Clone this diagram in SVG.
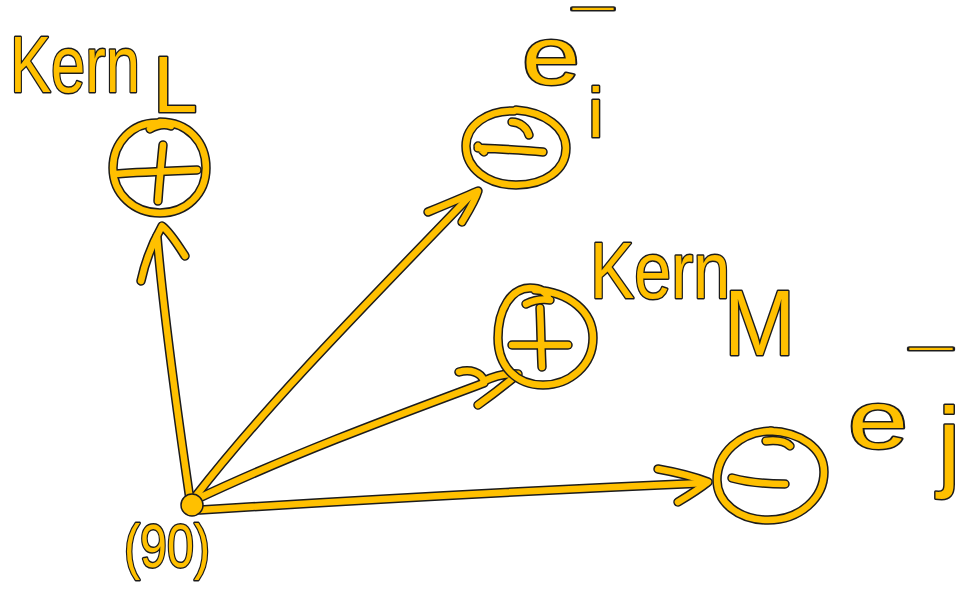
<svg xmlns="http://www.w3.org/2000/svg" xmlns:xlink="http://www.w3.org/1999/xlink" width="977" height="596" viewBox="0 0 977 596">
<style>
.o{fill:none;stroke:#1c1c1c;stroke-width:9.5;stroke-linecap:round;stroke-linejoin:round}
.y{fill:none;stroke:#FFC000;stroke-width:6.5;stroke-linecap:round;stroke-linejoin:round}
.t{fill:#FFC000;stroke:#1c1c1c;stroke-width:3;paint-order:stroke;stroke-linejoin:round;font-family:"Liberation Sans",Arial,sans-serif}
</style>
<defs>
<g id="p-arrows">
<path d="M190,500 C180,430 165,330 157,236"/>
<path d="M141,281 C146,258 154,240 162,226 C170,232 178,245 185,256"/>
<path d="M195,497 C270,400 380,290 470,196"/>
<path d="M428,212 C445,205 462,198 478,191 C475,201 468,212 462,222"/>
<path d="M195,500 C290,455 390,418 484,383"/>
<path d="M459,372 C470,369 481,372 484,381 C495,376 508,373 518,374 M478,405 C492,395 505,385 518,374"/>
<path d="M200,510 C360,500 540,490 706,483"/>
<path d="M658,469 C675,472 692,476 708,482 C698,490 688,496 678,502"/>
</g>
<g id="p-L">
<path d="M160,122 C188,122 206,142 206,168 C206,194 186,213 160,213 C134,213 113,194 113,168 C113,143 132,122 158,123"/>
<path d="M150,129 C157,125 165,124 171,126"/>
<path d="M116,174 C140,172 170,171 197,170"/>
<path d="M163,145 C161,165 159,185 158,201"/>
</g>
<g id="p-i">
<path d="M516,110 C545,112 566,128 566,148 C566,170 545,185 516,185 C487,185 466,168 466,146 C466,125 488,110 514,111"/>
<path d="M512,122 C520,122 527,128 529,135"/>
<path d="M478,146 L484,152 M478,148 C500,149 522,150 543,152"/>
</g>
<g id="p-M">
<path d="M535,290 C570,292 593,312 593,338 C593,365 570,385 543,385 C516,385 498,366 498,338 C498,308 512,288 530,288 C540,288 546,292 548,298"/>
<path d="M526,304 C534,300 543,299 550,300"/>
<path d="M512,345 C530,345 550,345 568,345"/>
<path d="M540,308 C541,328 541,348 542,367"/>
</g>
<g id="p-j">
<path d="M770,431 C800,432 824,448 824,472 C824,498 800,520 768,520 C738,520 717,502 717,480 C717,454 740,431 772,431"/>
<path d="M766,441 C775,440 785,441 790,446"/>
<path d="M732,478 C750,483 770,484 785,484"/>
</g>
</defs>

<g id="connectors">
<use xlink:href="#p-arrows" href="#p-arrows" class="o"/>
<use xlink:href="#p-arrows" href="#p-arrows" class="y"/>
</g>

<g id="kern-L">
<use xlink:href="#p-L" href="#p-L" class="o"/>
<use xlink:href="#p-L" href="#p-L" class="y"/>
<text class="t" font-size="80" transform="translate(10,92) scale(0.77,1)">Kern</text>
<text class="t" font-size="80" x="153" y="112">L</text>
</g>

<g id="e-i">
<use xlink:href="#p-i" href="#p-i" class="o"/>
<use xlink:href="#p-i" href="#p-i" class="y"/>
<text class="t" font-size="82"><tspan x="522" y="84" textLength="58" lengthAdjust="spacingAndGlyphs">e</tspan><tspan x="573" y="43" font-size="46" textLength="40" lengthAdjust="spacingAndGlyphs">¯</tspan><tspan x="588" y="137" font-size="70">i</tspan></text>
</g>

<g id="kern-M">
<use xlink:href="#p-M" href="#p-M" class="o"/>
<use xlink:href="#p-M" href="#p-M" class="y"/>
<text class="t" font-size="80" transform="translate(590,298) scale(0.83,1)">Kern</text>
<text class="t" font-size="92" transform="translate(724,355) scale(0.93,1)">M</text>
</g>

<g id="e-j">
<use xlink:href="#p-j" href="#p-j" class="o"/>
<use xlink:href="#p-j" href="#p-j" class="y"/>
<text class="t" font-size="82"><tspan x="848" y="448" textLength="60" lengthAdjust="spacingAndGlyphs">e</tspan><tspan x="910" y="383" font-size="46" textLength="42" lengthAdjust="spacingAndGlyphs">¯</tspan><tspan x="938" y="478" font-size="100">j</tspan></text>
</g>

<g id="origin">
<circle cx="192" cy="505" r="11" fill="#FFC000" stroke="#1c1c1c" stroke-width="1.5"/>
<text class="t" x="124" y="567" font-size="62" textLength="86" lengthAdjust="spacingAndGlyphs">(90)</text>
</g>
</svg>
